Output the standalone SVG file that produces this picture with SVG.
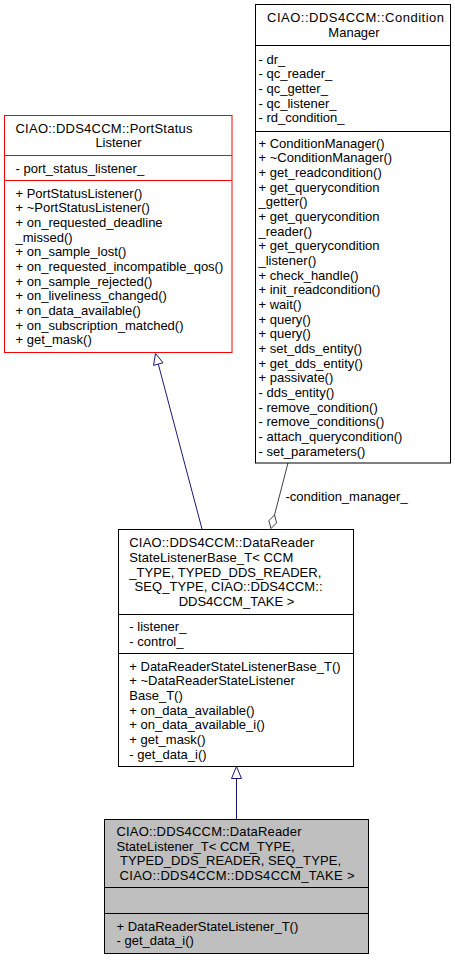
<svg xmlns="http://www.w3.org/2000/svg" width="455" height="960" viewBox="0 0 455 960">
<style>
text{font-family:"Liberation Sans",Arial,Helvetica,sans-serif;font-size:13px;fill:#000}
.m{text-anchor:middle}
.box{fill:#fff;stroke:#000;stroke-width:1}
.red{fill:#fff;stroke:#ff0000;stroke-width:1}
.gray{fill:#bfbfbf;stroke:#000;stroke-width:1}
.div{stroke:#000;stroke-width:1}
.divr{stroke:#ff0000;stroke-width:1}
.inh{fill:none;stroke:#191970;stroke-width:1}
.inhh{fill:#fff;stroke:#191970;stroke-width:1}
.agg{fill:none;stroke:#404040;stroke-width:1}
.aggh{fill:#fff;stroke:#404040;stroke-width:1}
</style>
<rect width="455" height="960" fill="#fff"/>
<g id="connectors">
<path class="inh" d="M202,529 L158.3,364.1"/>
<polygon class="inhh" points="155.5,353.5 163.1,362.8 153.5,365.4"/>
<path class="inh" d="M236.5,819 L236.5,778.5"/>
<polygon class="inhh" points="236.5,766.5 241.5,778.5 231.5,778.5"/>
<path class="agg" d="M288,463 L274.5,515"/>
<polygon class="aggh" points="271,528.5 268.9,520.7 274.5,515 276.6,522.8"/>
<text x="285.5" y="501">-condition_manager_</text>
</g>
<g id="PortStatusListener">
<rect class="red" x="4.5" y="115.5" width="227.5" height="237"/>
<line class="divr" x1="4.5" y1="155.5" x2="232" y2="155.5"/>
<line class="divr" x1="4.5" y1="180.5" x2="232" y2="180.5"/>
<text x="15.5" y="132.7" textLength="177" lengthAdjust="spacing">CIAO::DDS4CCM::PortStatus</text>
<text class="m" x="118.5" y="147.3">Listener</text>
<text x="15.5" y="172.5">- port_status_listener_</text>
<text x="15.5" y="197.7">+ PortStatusListener()</text>
<text x="15.5" y="212.4">+ ~PortStatusListener()</text>
<text x="15.5" y="227">+ on_requested_deadline</text>
<text x="15.5" y="241.7">_missed()</text>
<text x="15.5" y="256.4">+ on_sample_lost()</text>
<text x="15.5" y="271">+ on_requested_incompatible_qos()</text>
<text x="15.5" y="285.7">+ on_sample_rejected()</text>
<text x="15.5" y="300.4">+ on_liveliness_changed()</text>
<text x="15.5" y="315.1">+ on_data_available()</text>
<text x="15.5" y="329.7">+ on_subscription_matched()</text>
<text x="15.5" y="344.4">+ get_mask()</text>
</g>
<g id="ConditionManager">
<rect class="box" x="255.5" y="4.5" width="195" height="458.5"/>
<line class="div" x1="255.5" y1="45.5" x2="450.5" y2="45.5"/>
<line class="div" x1="255.5" y1="131.5" x2="450.5" y2="131.5"/>
<text x="267" y="22.2" textLength="177" lengthAdjust="spacing">CIAO::DDS4CCM::Condition</text>
<text class="m" x="354" y="36.8">Manager</text>
<text x="258.5" y="63.7">- dr_</text>
<text x="258.5" y="78.4">- qc_reader_</text>
<text x="258.5" y="93">- qc_getter_</text>
<text x="258.5" y="107.7">- qc_listener_</text>
<text x="258.5" y="122.4">- rd_condition_</text>
<text x="258.5" y="147.7">+ ConditionManager()</text>
<text x="258.5" y="162.4">+ ~ConditionManager()</text>
<text x="258.5" y="177">+ get_readcondition()</text>
<text x="258.5" y="191.7">+ get_querycondition</text>
<text x="258.5" y="206.4">_getter()</text>
<text x="258.5" y="221">+ get_querycondition</text>
<text x="258.5" y="235.7">_reader()</text>
<text x="258.5" y="250.4">+ get_querycondition</text>
<text x="258.5" y="265.1">_listener()</text>
<text x="258.5" y="279.7">+ check_handle()</text>
<text x="258.5" y="294.4">+ init_readcondition()</text>
<text x="258.5" y="309.1">+ wait()</text>
<text x="258.5" y="323.7">+ query()</text>
<text x="258.5" y="338.4">+ query()</text>
<text x="258.5" y="353.1">+ set_dds_entity()</text>
<text x="258.5" y="367.8">+ get_dds_entity()</text>
<text x="258.5" y="382.4">+ passivate()</text>
<text x="258.5" y="397.1">- dds_entity()</text>
<text x="258.5" y="411.8">- remove_condition()</text>
<text x="258.5" y="426.4">- remove_conditions()</text>
<text x="258.5" y="441.1">- attach_querycondition()</text>
<text x="258.5" y="455.8">- set_parameters()</text>
</g>
<g id="DataReaderStateListenerBase_T">
<rect class="box" x="118.5" y="529.5" width="235" height="237"/>
<line class="div" x1="118.5" y1="614.5" x2="353.5" y2="614.5"/>
<line class="div" x1="118.5" y1="653.5" x2="353.5" y2="653.5"/>
<text x="129.3" y="547.2" textLength="185" lengthAdjust="spacing">CIAO::DDS4CCM::DataReader</text>
<text x="129.3" y="561.9" textLength="164" lengthAdjust="spacing">StateListenerBase_T&lt; CCM</text>
<text x="129.3" y="576.5" textLength="192" lengthAdjust="spacing">_TYPE, TYPED_DDS_READER,</text>
<text x="134.5" y="591.2" textLength="188" lengthAdjust="spacing">SEQ_TYPE, CIAO::DDS4CCM::</text>
<text class="m" x="236.5" y="605.9">DDS4CCM_TAKE &gt;</text>
<text x="129.3" y="631.2">- listener_</text>
<text x="129.3" y="645.8">- control_</text>
<text x="129.3" y="670.5">+ DataReaderStateListenerBase_T()</text>
<text x="129.3" y="685.2">+ ~DataReaderStateListener</text>
<text x="129.3" y="699.8">Base_T()</text>
<text x="129.3" y="714.5">+ on_data_available()</text>
<text x="129.3" y="729.2">+ on_data_available_i()</text>
<text x="129.3" y="743.8">+ get_mask()</text>
<text x="129.3" y="758.5">- get_data_i()</text>
</g>
<g id="DataReaderStateListener_T">
<rect class="gray" x="104.5" y="819.5" width="264" height="134"/>
<line class="div" x1="104.5" y1="887.5" x2="368.5" y2="887.5"/>
<line class="div" x1="104.5" y1="913.5" x2="368.5" y2="913.5"/>
<text x="116.5" y="836" textLength="185" lengthAdjust="spacing">CIAO::DDS4CCM::DataReader</text>
<text x="116.5" y="850.7" textLength="178" lengthAdjust="spacing">StateListener_T&lt; CCM_TYPE,</text>
<text x="120" y="865.3" textLength="221" lengthAdjust="spacing">TYPED_DDS_READER, SEQ_TYPE,</text>
<text x="119.5" y="880" textLength="235" lengthAdjust="spacing">CIAO::DDS4CCM::DDS4CCM_TAKE &gt;</text>
<text x="116.5" y="930.7">+ DataReaderStateListener_T()</text>
<text x="116.5" y="945.3">- get_data_i()</text>
</g>
</svg>
